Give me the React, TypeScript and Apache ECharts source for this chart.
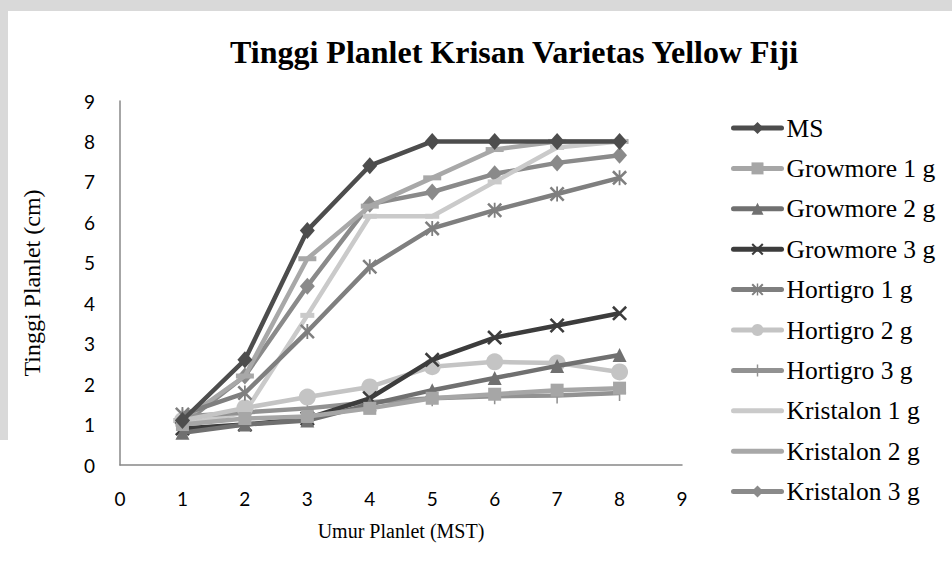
import React, { useEffect, useRef } from "react";
import * as echarts from "echarts";

const weeks = [1, 2, 3, 4, 5, 6, 7, 8];
const seriesNames = [
  "MS",
  "Growmore 1 g",
  "Growmore 2 g",
  "Growmore 3 g",
  "Hortigro 1 g",
  "Hortigro 2 g",
  "Hortigro 3 g",
  "Kristalon 1 g",
  "Kristalon 2 g",
  "Kristalon 3 g",
];
const ms = [1.1, 2.6, 5.8, 7.4, 8.0, 8.0, 8.0, 8.0];
const growmore1 = [1.0, 1.15, 1.2, 1.4, 1.65, 1.75, 1.85, 1.9];
const growmore2 = [0.8, 1.0, 1.1, 1.5, 1.85, 2.15, 2.45, 2.72];
const growmore3 = [0.9, 1.0, 1.15, 1.65, 2.6, 3.15, 3.45, 3.75];
const hortigro1 = [1.25, 1.78, 3.3, 4.9, 5.85, 6.3, 6.7, 7.1];
const hortigro2 = [1.1, 1.41, 1.68, 1.93, 2.43, 2.55, 2.52, 2.3];
const hortigro3 = [1.2, 1.3, 1.4, 1.55, 1.65, 1.7, 1.72, 1.78];
const kristalon1 = [1.0, 1.3, 3.7, 6.15, 6.15, 7.0, 7.85, 8.0];
const kristalon2 = [1.1, 2.2, 5.1, 6.4, 7.1, 7.8, 8.0, 8.0];
const kristalon3 = [1.0, 2.2, 4.42, 6.45, 6.75, 7.2, 7.47, 7.66];
const xTicks = [0, 1, 2, 3, 4, 5, 6, 7, 8, 9];
const yTicks = [0, 1, 2, 3, 4, 5, 6, 7, 8, 9];

const X_PATH = "path://M0,1.2L1.2,0L10,8.8L8.8,10Z M8.8,0L10,1.2L1.2,10L0,8.8Z";
const STAR_PATH =
  "path://M0,1.2L1.2,0L10,8.8L8.8,10Z M8.8,0L10,1.2L1.2,10L0,8.8Z M4.4,0L5.6,0L5.6,10L4.4,10Z";
const PLUS_PATH = "path://M4.4,0L5.6,0L5.6,10L4.4,10Z M0,4.4L10,4.4L10,5.6L0,5.6Z";

export default function App() {
  const ref = useRef<HTMLDivElement>(null);
  useEffect(() => {
    if (!ref.current) return;
    const chart = echarts.init(ref.current, undefined, { renderer: "svg" });
    const dataSets = [
      ms,
      growmore1,
      growmore2,
      growmore3,
      hortigro1,
      hortigro2,
      hortigro3,
      kristalon1,
      kristalon2,
      kristalon3,
    ];
    const colors = [
      "#4d4d4d",
      "#a6a6a6",
      "#707070",
      "#3c3c3c",
      "#7f7f7f",
      "#c4c4c4",
      "#929292",
      "#cacaca",
      "#a8a8a8",
      "#8a8a8a",
    ];
    const symbols: any[] = [
      "diamond",
      "rect",
      "triangle",
      X_PATH,
      STAR_PATH,
      "circle",
      PLUS_PATH,
      "rect",
      "rect",
      "diamond",
    ];
    const sizes: any[] = [
      [15, 17],
      13,
      14,
      15,
      15,
      17,
      [13, 16],
      [14, 5],
      [18, 5],
      [15, 17],
    ];
    const series = seriesNames.map((name, i) => ({
      name,
      type: "line",
      data: weeks.map((w, j) => [w, dataSets[i][j]]),
      symbol: symbols[i],
      symbolSize: sizes[i],
      showAllSymbol: true,
      lineStyle: { color: colors[i], width: 4.5 },
      itemStyle: { color: colors[i] },
      z: 10 - i,
    }));
    const legendData = seriesNames.map((name) =>
      name.startsWith("Kristalon 1") || name.startsWith("Kristalon 2")
        ? { name, itemStyle: { opacity: 0 } }
        : { name }
    );
    chart.setOption({
      animation: false,
      backgroundColor: "#ffffff",
      graphic: [
        { type: "rect", shape: { x: 0, y: 0, width: 952, height: 11 }, style: { fill: "#d9d9d9" }, silent: true },
        { type: "rect", shape: { x: 0, y: 0, width: 8, height: 440 }, style: { fill: "#d9d9d9" }, silent: true },
      ],
      title: {
        text: "Tinggi Planlet Krisan Varietas Yellow Fiji",
        left: 509,
        textAlign: "center",
        top: 31,
        textStyle: {
          fontFamily: "Liberation Serif",
          fontWeight: "bold",
          fontSize: 32,
          color: "#000000",
        },
      },
      legend: {
        orient: "vertical",
        left: 726,
        top: 110,
        itemWidth: 48,
        itemHeight: 15,
        itemGap: 14.4,
        data: legendData,
        lineStyle: { width: 5, cap: "round" },
        textStyle: {
          fontFamily: "Liberation Serif",
          fontSize: 25.5,
          color: "#000000",
          lineHeight: 26,
        },
      },
      grid: { left: 120, right: 270, top: 101, bottom: 114 },
      xAxis: {
        type: "value",
        min: 0,
        max: 9,
        interval: 1,
        name: "Umur Planlet (MST)",
        nameLocation: "middle",
        nameGap: 56,
        nameTextStyle: { fontFamily: "Liberation Serif", fontSize: 20, color: "#000000" },
        axisLine: { show: true, lineStyle: { color: "#888888", width: 1.5 } },
        axisTick: { show: false },
        splitLine: { show: false },
        axisLabel: {
          margin: 24,
          fontFamily: "Lato",
          fontSize: 19,
          color: "#000000",
          formatter: (v: number) => (xTicks.includes(v) ? String(v) : ""),
        },
      },
      yAxis: {
        type: "value",
        min: 0,
        max: 9,
        interval: 1,
        name: "Tinggi Planlet (cm)",
        nameLocation: "middle",
        nameRotate: 90,
        nameGap: 76,
        nameTextStyle: { fontFamily: "Liberation Serif", fontSize: 24, color: "#000000" },
        axisLine: { show: true, lineStyle: { color: "#888888", width: 1.5 } },
        axisTick: { show: false },
        splitLine: { show: false },
        axisLabel: {
          margin: 25,
          fontFamily: "Lato",
          fontSize: 19,
          color: "#000000",
          formatter: (v: number) => (yTicks.includes(v) ? String(v) : ""),
        },
      },
      series,
    });
    return () => chart.dispose();
  }, []);
  return (
    <div
      ref={ref}
      style={{ position: "absolute", left: 0, top: 0, width: 952, height: 579 }}
    />
  );
}
